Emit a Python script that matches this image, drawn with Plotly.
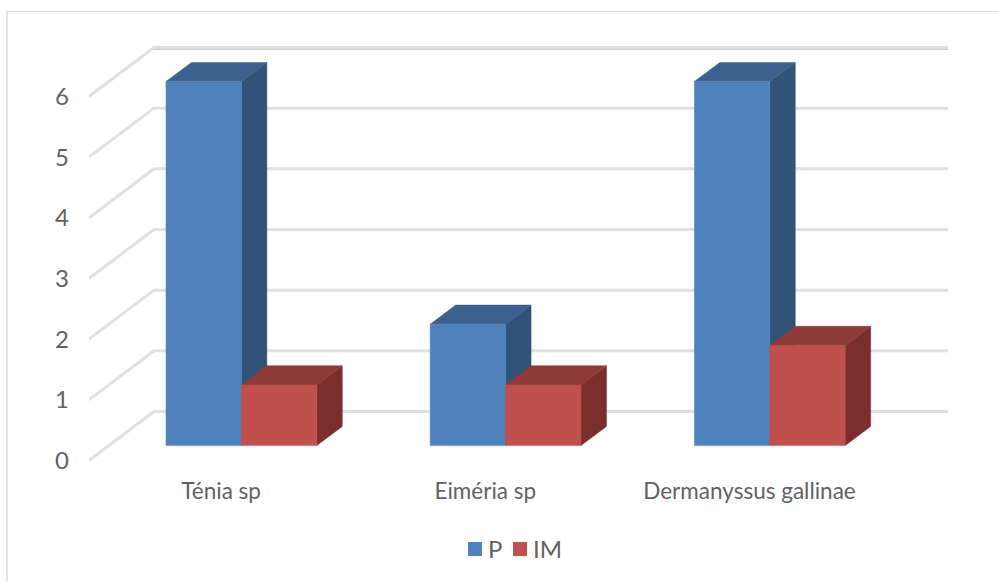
import plotly.graph_objects as go

# Chart data
categories = ["Ténia sp", "Eiméria sp", "Dermanyssus gallinae"]
series_names = ["P", "IM"]
p_values = [6, 2, 6]
im_values = [1, 1, 1.65]
y_ticks = [0, 1, 2, 3, 4, 5, 6]

# Canvas and oblique projection settings (pixels per unit)
WIDTH, HEIGHT = 998, 581
PLOT_LEFT, PLOT_BOTTOM = 89, 466
BASE_Y = 460.5
CAT_PX = 264.2
VAL_PX = 60.67
DEPTH_X_PX, DEPTH_Y_PX = 65.0, 49.0
BAR_WIDTH = 75.4 / CAT_PX
BAR_DEPTH = (0.304, 0.696)
WALL_END = len(categories) + 0.005
plot_w = WIDTH - PLOT_LEFT


def project(cat, val, depth):
    """Oblique projection of a (category, value, depth) point onto the flat axes."""
    return (cat + depth * DEPTH_X_PX / CAT_PX, val + depth * DEPTH_Y_PX / VAL_PX)


def polygon(points, color, edge):
    xs, ys = zip(*[project(*pt) for pt in points])
    return go.Scatter(
        x=list(xs) + [xs[0]], y=list(ys) + [ys[0]], mode="lines", fill="toself",
        fillcolor=color, line=dict(color=edge, width=0.5), hoverinfo="skip",
        showlegend=False,
    )


def box_faces(left, value, colors):
    right = left + BAR_WIDTH
    near, far = BAR_DEPTH
    side = [(right, 0, near), (right, 0, far), (right, value, far), (right, value, near)]
    top = [(left, value, near), (right, value, near), (right, value, far), (left, value, far)]
    front = [(left, 0, near), (right, 0, near), (right, value, near), (left, value, near)]
    return [
        polygon(side, colors["side"], colors["side"]),
        polygon(top, colors["top"], colors["top"]),
        polygon(front, colors["front"], colors["front"]),
    ]


def paper_x(px):
    return (px - PLOT_LEFT) / plot_w


def paper_y(py):
    return (PLOT_BOTTOM - py) / PLOT_BOTTOM


BLUE = dict(front="#4f81bd", top="#3c618f", side="#325378")
RED = dict(front="#c0504d", top="#8e3a38", side="#7a2f2d")
FONT = "Lato, Carlito, sans-serif"
TEXT = "#626262"

fig = go.Figure()

# Wall and floor gridlines: a diagonal on the side wall, then along the back wall
for tick in y_ticks:
    pts = [project(0, tick, 0), project(0, tick, 1), project(WALL_END, tick, 1)]
    xs, ys = zip(*pts)
    if tick == y_ticks[-1]:
        shade = [project(0.0, tick, 1), project(WALL_END, tick, 1)]
        fig.add_trace(go.Scatter(
            x=[q[0] for q in shade], y=[q[1] - 1.2 / VAL_PX for q in shade], mode="lines",
            line=dict(color="#bdbdbd", width=2), hoverinfo="skip", showlegend=False,
        ))
    fig.add_trace(go.Scatter(
        x=xs, y=ys, mode="lines", line=dict(color="#e0e0e0", width=3),
        hoverinfo="skip", showlegend=False,
    ))

# Paired boxes for every category, blue drawn first so red sits against it
for i, (p, im) in enumerate(zip(p_values, im_values)):
    center = i + 0.502
    for trace in box_faces(center - BAR_WIDTH, p, BLUE):
        fig.add_trace(trace)
    for trace in box_faces(center, im, RED):
        fig.add_trace(trace)

# Frame around the chart, in paper coordinates extended beyond the plot area
frame_x = paper_x(7)
fig.add_shape(type="line", xref="paper", yref="paper", x0=frame_x, x1=1,
              y0=paper_y(11.5), y1=paper_y(11.5), line=dict(color="#dcdcdc", width=1))
fig.add_shape(type="line", xref="paper", yref="paper", x0=frame_x, x1=frame_x,
              y0=paper_y(11), y1=paper_y(HEIGHT), line=dict(color="#e2e2e2", width=2))

# Compact legend row below the category labels
legend_layout = [(series_names[0], BLUE["front"], 468, 486), (series_names[1], RED["front"], 513, 531)]
for name, color, key_px, text_px in legend_layout:
    fig.add_shape(type="rect", xref="paper", yref="paper",
                  x0=paper_x(key_px), x1=paper_x(key_px + 14),
                  y0=paper_y(542), y1=paper_y(556),
                  fillcolor=color, line=dict(width=0))
    fig.add_annotation(xref="paper", yref="paper", x=paper_x(text_px), y=paper_y(548),
                       xanchor="left", yanchor="middle", text=name, showarrow=False,
                       font=dict(family=FONT, size=24, color=TEXT))

fig.update_layout(
    width=WIDTH, height=HEIGHT,
    margin=dict(l=PLOT_LEFT, r=0, t=0, b=HEIGHT - PLOT_BOTTOM, pad=0),
    paper_bgcolor="white", plot_bgcolor="white",
    font=dict(family=FONT, color=TEXT, size=22),
    hovermode=False, showlegend=False,
    xaxis=dict(
        range=[0, plot_w / CAT_PX],
        tickmode="array", tickvals=[i + 0.5 for i in range(len(categories))],
        ticktext=categories, showgrid=False, zeroline=False, showline=False,
        ticks="", ticklabelstandoff=9, tickfont=dict(size=22.5, color=TEXT),
    ),
    yaxis=dict(
        range=[(BASE_Y - PLOT_BOTTOM) / VAL_PX, BASE_Y / VAL_PX],
        tickmode="array", tickvals=y_ticks, showgrid=False, zeroline=False,
        showline=False, ticks="", ticklabelstandoff=19,
        tickfont=dict(size=24, color=TEXT),
    ),
)

fig.write_html("out.html", config=dict(displayModeBar=False))
